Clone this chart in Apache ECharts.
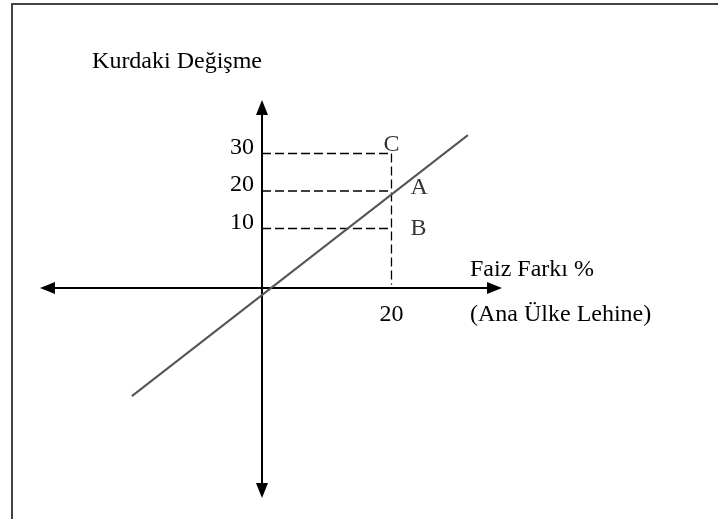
<!DOCTYPE html>
<html>
<head>
<meta charset="utf-8">
<script src="https://cdn.jsdelivr.net/npm/echarts@6/dist/echarts.min.js"></script>
<style>
  html, body { margin: 0; padding: 0; background: #fff; }
  #chart { width: 718px; height: 519px; }
</style>
</head>
<body>
<div id="chart"></div>
<script>
// values (schematic scale)
const yTicks = [10, 20, 30]
const xTicks = [20]
const pointNames = ['C', 'A', 'B']
const pointX = [20, 20, 20]
const pointY = [30, 20, 10]
const lineX = [-20.1, 31.8]
const lineY = [-34.7, 34.9]
const dropEnd = -5 // vertical dashed guide stops just above the axis

const FONT = 'Liberation Serif'

const chart = echarts.init(document.getElementById('chart'))

// dashed guides: horizontal from the y axis to x=20, and the vertical drop
const guideSeries = yTicks.map(v => ({
  type: 'line',
  data: [[0, v], [xTicks[0], v]],
  symbol: 'none',
  lineStyle: { color: '#000', width: 1.3, type: [9, 4] },
  silent: true
}))
guideSeries.push({
  type: 'line',
  data: [[xTicks[0], Math.max(...yTicks)], [xTicks[0], dropEnd]],
  symbol: 'none',
  lineStyle: { color: '#000', width: 1.3, type: [9, 4] },
  silent: true
})

// label placement for the point letters
const letterLabel = {
  C: { position: 'top', distance: -3 },
  A: { position: 'right', distance: 19, offset: [0, -3] },
  B: { position: 'right', distance: 19 }
}

// the axes cross inside the grid, so both are shifted in from the edges
const option = {
  animation: false,
  textStyle: { fontFamily: FONT },
  graphic: [{
    type: 'rect',
    shape: { x: 12, y: 4, width: 720, height: 530 },
    style: { fill: 'none', stroke: '#444', lineWidth: 2 },
    silent: true
  }],
  grid: { left: 47.5, right: 223.5, top: 107.5, bottom: 28.5, containLabel: false },
  xAxis: {
    type: 'value',
    min: -33.13,
    max: 35.91,
    position: 'bottom',
    offset: -202.5,
    name: '{a|Faiz Farkı %}\n{b|(Ana Ülke Lehine)}',
    nameLocation: 'end',
    nameGap: -24.5,
    nameTextStyle: {
      fontFamily: FONT, fontSize: 24, color: '#000',
      align: 'left', verticalAlign: 'middle',
      rich: {
        a: { fontFamily: FONT, fontSize: 24, color: '#000', lineHeight: 54 },
        b: { fontFamily: FONT, fontSize: 24, color: '#000', lineHeight: 36 }
      }
    },
    axisLine: {
      onZero: false,
      symbol: ['triangle', 'triangle'],
      symbolSize: [12, 15],
      lineStyle: { color: '#000', width: 2 }
    },
    axisTick: { show: false },
    splitLine: { show: false },
    axisLabel: {
      customValues: xTicks,
      margin: 15,
      fontFamily: FONT, fontSize: 24, color: '#000'
    }
  },
  yAxis: {
    type: 'value',
    min: -59.87,
    max: 42.27,
    position: 'left',
    offset: -214.5,
    name: 'Kurdaki Değişme',
    nameLocation: 'end',
    nameGap: 46,
    nameTextStyle: {
      fontFamily: FONT, fontSize: 24, color: '#000',
      align: 'right', verticalAlign: 'middle'
    },
    axisLine: {
      onZero: false,
      symbol: ['triangle', 'triangle'],
      symbolSize: [12, 15],
      lineStyle: { color: '#000', width: 2 }
    },
    axisTick: { show: false },
    splitLine: { show: false },
    axisLabel: {
      customValues: yTicks,
      margin: 8,
      verticalAlign: 'bottom',
      lineHeight: 12,
      fontFamily: FONT, fontSize: 24, color: '#000'
    }
  },
  series: [
    ...guideSeries,
    {
      type: 'line',
      data: lineX.map((x, i) => [x, lineY[i]]),
      symbol: 'none',
      lineStyle: { color: '#555', width: 2 },
      silent: true
    },
    {
      type: 'scatter',
      symbolSize: 0,
      data: pointNames.map((n, i) => ({
        name: n,
        value: [pointX[i], pointY[i]],
        label: letterLabel[n]
      })),
      label: {
        show: true,
        formatter: '{b}',
        fontFamily: FONT, fontSize: 24, color: '#000'
      },
      silent: true
    }
  ]
}

chart.setOption(option)
</script>
</body>
</html>
